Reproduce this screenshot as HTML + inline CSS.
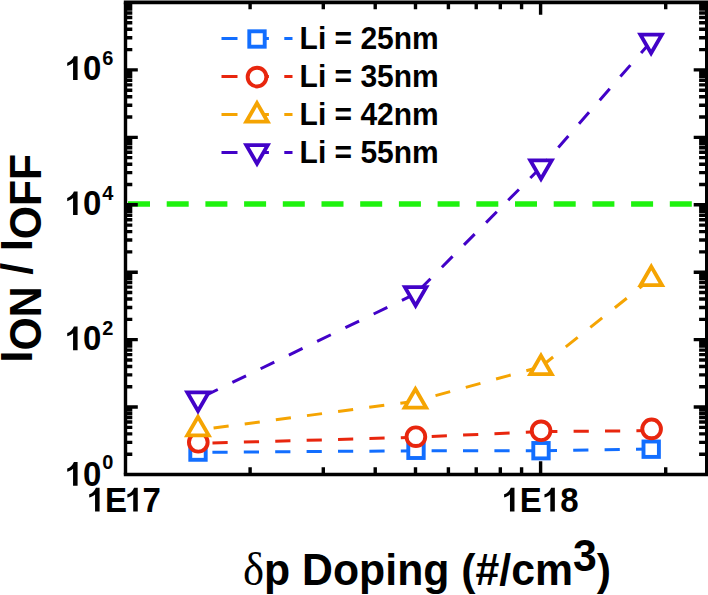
<!DOCTYPE html>
<html><head><meta charset="utf-8"><style>
html,body{margin:0;padding:0;background:#fff;}
svg{display:block;}
text{font-family:"Liberation Sans",sans-serif;font-weight:bold;fill:#000;}
.lg{font-size:30px;}
.tl{font-size:33px;}
.sup{font-size:20px;}
.ti{font-size:43px;}
.dl{font-family:"Liberation Serif",serif;font-weight:normal;font-size:45px;}
</style></head><body>
<svg width="708" height="595" viewBox="0 0 708 595">
<rect width="708" height="595" fill="#fff"/>
<line x1="128" y1="204" x2="692" y2="204" stroke="#1ef20e" stroke-width="5.4" stroke-dasharray="22 16.7"/>
<path d="M416,450.8 L198,452.4" fill="none" stroke="#126eff" stroke-width="3.0" stroke-dasharray="15.2 16.2"/>
<path d="M541,450.8 L416,450.8" fill="none" stroke="#126eff" stroke-width="3.0" stroke-dasharray="15.2 16.2"/>
<path d="M651.2,449.1 L541,450.8" fill="none" stroke="#126eff" stroke-width="3.0" stroke-dasharray="15.2 16.2"/>
<path d="M416,437.2 L198,443.4" fill="none" stroke="#e8260e" stroke-width="3.0" stroke-dasharray="15.2 16.2"/>
<path d="M541,431.6 L416,437.2" fill="none" stroke="#e8260e" stroke-width="3.0" stroke-dasharray="15.2 16.2"/>
<path d="M651.6,430.6 L541,431.6" fill="none" stroke="#e8260e" stroke-width="3.0" stroke-dasharray="15.2 16.2"/>
<path d="M415.4,401.2 L198,430.1" fill="none" stroke="#f5a402" stroke-width="3.0" stroke-dasharray="15.2 16.2"/>
<path d="M541,366.7 L415.4,401.2" fill="none" stroke="#f5a402" stroke-width="3.0" stroke-dasharray="15.2 16.2"/>
<path d="M651.3,278.7 L541,366.7" fill="none" stroke="#f5a402" stroke-width="3.0" stroke-dasharray="15.2 16.2"/>
<path d="M415.6,293.7 L198,399.1" fill="none" stroke="#4202c8" stroke-width="3.0" stroke-dasharray="15.2 16.2"/>
<path d="M541,167.2 L415.6,293.7" fill="none" stroke="#4202c8" stroke-width="3.0" stroke-dasharray="15.2 16.2"/>
<path d="M651.1,41.5 L541,167.2" fill="none" stroke="#4202c8" stroke-width="3.0" stroke-dasharray="15.2 16.2"/>
<rect x="190.30" y="444.40" width="15.4" height="15.4" fill="#fff" stroke="#126eff" stroke-width="3.9"/>
<rect x="408.30" y="442.60" width="15.4" height="15.4" fill="#fff" stroke="#126eff" stroke-width="3.9"/>
<rect x="533.30" y="443.00" width="15.4" height="15.4" fill="#fff" stroke="#126eff" stroke-width="3.9"/>
<rect x="643.50" y="441.50" width="15.4" height="15.4" fill="#fff" stroke="#126eff" stroke-width="3.9"/>
<circle cx="198.30" cy="442.30" r="9.35" fill="#fff" stroke="#e8260e" stroke-width="3.9"/>
<circle cx="415.90" cy="436.70" r="9.35" fill="#fff" stroke="#e8260e" stroke-width="3.9"/>
<circle cx="541.10" cy="430.80" r="9.35" fill="#fff" stroke="#e8260e" stroke-width="3.9"/>
<circle cx="651.60" cy="428.90" r="9.35" fill="#fff" stroke="#e8260e" stroke-width="3.9"/>
<polygon points="198.00,416.84 208.70,435.38 187.30,435.38" fill="#fff" stroke="#f5a402" stroke-width="3.85"/>
<polygon points="415.40,389.04 426.10,407.58 404.70,407.58" fill="#fff" stroke="#f5a402" stroke-width="3.85"/>
<polygon points="541.00,355.64 551.70,374.18 530.30,374.18" fill="#fff" stroke="#f5a402" stroke-width="3.85"/>
<polygon points="651.30,266.64 662.00,285.18 640.60,285.18" fill="#fff" stroke="#f5a402" stroke-width="3.85"/>
<polygon points="187.30,392.42 208.70,392.42 198.00,410.96" fill="#fff" stroke="#4202c8" stroke-width="3.85"/>
<polygon points="404.90,287.12 426.30,287.12 415.60,305.66" fill="#fff" stroke="#4202c8" stroke-width="3.85"/>
<polygon points="530.30,160.42 551.70,160.42 541.00,178.96" fill="#fff" stroke="#4202c8" stroke-width="3.85"/>
<polygon points="640.40,34.62 661.80,34.62 651.10,53.16" fill="#fff" stroke="#4202c8" stroke-width="3.85"/>
<path d="M250.11,474.5 v-7.3 M250.11,2.4 v6.8 M323.29,474.5 v-7.3 M323.29,2.4 v6.8 M375.22,474.5 v-7.3 M375.22,2.4 v6.8 M415.49,474.5 v-7.3 M415.49,2.4 v6.8 M448.40,474.5 v-7.3 M448.40,2.4 v6.8 M476.22,474.5 v-7.3 M476.22,2.4 v6.8 M500.32,474.5 v-7.3 M500.32,2.4 v6.8 M521.58,474.5 v-7.3 M521.58,2.4 v6.8 M540.60,474.5 v-13.2 M540.60,2.4 v12.4 M665.71,474.5 v-7.3 M665.71,2.4 v6.8 M125.5,454.20 h6.8 M706.7,454.20 h-7.6 M125.5,442.33 h6.8 M706.7,442.33 h-7.6 M125.5,433.90 h6.8 M706.7,433.90 h-7.6 M125.5,427.37 h6.8 M706.7,427.37 h-7.6 M125.5,422.03 h6.8 M706.7,422.03 h-7.6 M125.5,417.52 h6.8 M706.7,417.52 h-7.6 M125.5,413.60 h6.8 M706.7,413.60 h-7.6 M125.5,410.16 h6.8 M706.7,410.16 h-7.6 M125.5,407.07 h12.3 M706.7,407.07 h-13.0 M125.5,386.77 h6.8 M706.7,386.77 h-7.6 M125.5,374.90 h6.8 M706.7,374.90 h-7.6 M125.5,366.47 h6.8 M706.7,366.47 h-7.6 M125.5,359.94 h6.8 M706.7,359.94 h-7.6 M125.5,354.60 h6.8 M706.7,354.60 h-7.6 M125.5,350.09 h6.8 M706.7,350.09 h-7.6 M125.5,346.17 h6.8 M706.7,346.17 h-7.6 M125.5,342.73 h6.8 M706.7,342.73 h-7.6 M125.5,339.64 h12.3 M706.7,339.64 h-13.0 M125.5,319.34 h6.8 M706.7,319.34 h-7.6 M125.5,307.47 h6.8 M706.7,307.47 h-7.6 M125.5,299.04 h6.8 M706.7,299.04 h-7.6 M125.5,292.51 h6.8 M706.7,292.51 h-7.6 M125.5,287.17 h6.8 M706.7,287.17 h-7.6 M125.5,282.66 h6.8 M706.7,282.66 h-7.6 M125.5,278.74 h6.8 M706.7,278.74 h-7.6 M125.5,275.30 h6.8 M706.7,275.30 h-7.6 M125.5,272.21 h12.3 M706.7,272.21 h-13.0 M125.5,251.91 h6.8 M706.7,251.91 h-7.6 M125.5,240.04 h6.8 M706.7,240.04 h-7.6 M125.5,231.61 h6.8 M706.7,231.61 h-7.6 M125.5,225.08 h6.8 M706.7,225.08 h-7.6 M125.5,219.74 h6.8 M706.7,219.74 h-7.6 M125.5,215.23 h6.8 M706.7,215.23 h-7.6 M125.5,211.31 h6.8 M706.7,211.31 h-7.6 M125.5,207.87 h6.8 M706.7,207.87 h-7.6 M125.5,204.78 h12.3 M706.7,204.78 h-13.0 M125.5,184.48 h6.8 M706.7,184.48 h-7.6 M125.5,172.61 h6.8 M706.7,172.61 h-7.6 M125.5,164.18 h6.8 M706.7,164.18 h-7.6 M125.5,157.65 h6.8 M706.7,157.65 h-7.6 M125.5,152.31 h6.8 M706.7,152.31 h-7.6 M125.5,147.80 h6.8 M706.7,147.80 h-7.6 M125.5,143.88 h6.8 M706.7,143.88 h-7.6 M125.5,140.44 h6.8 M706.7,140.44 h-7.6 M125.5,137.35 h12.3 M706.7,137.35 h-13.0 M125.5,117.05 h6.8 M706.7,117.05 h-7.6 M125.5,105.18 h6.8 M706.7,105.18 h-7.6 M125.5,96.75 h6.8 M706.7,96.75 h-7.6 M125.5,90.22 h6.8 M706.7,90.22 h-7.6 M125.5,84.88 h6.8 M706.7,84.88 h-7.6 M125.5,80.37 h6.8 M706.7,80.37 h-7.6 M125.5,76.45 h6.8 M706.7,76.45 h-7.6 M125.5,73.01 h6.8 M706.7,73.01 h-7.6 M125.5,69.92 h12.3 M706.7,69.92 h-13.0 M125.5,49.62 h6.8 M706.7,49.62 h-7.6 M125.5,37.75 h6.8 M706.7,37.75 h-7.6 M125.5,29.32 h6.8 M706.7,29.32 h-7.6 M125.5,22.79 h6.8 M706.7,22.79 h-7.6 M125.5,17.45 h6.8 M706.7,17.45 h-7.6 M125.5,12.94 h6.8 M706.7,12.94 h-7.6 M125.5,9.02 h6.8 M706.7,9.02 h-7.6 M125.5,5.58 h6.8 M706.7,5.58 h-7.6" stroke="#000" stroke-width="3.4" fill="none"/>
<path d="M125.5,2.4 V474.5" stroke="#000" stroke-width="3.4"/>
<path d="M706.7,2.4 V474.5" stroke="#000" stroke-width="3.4"/>
<path d="M123.8,2.4 H708.4000000000001" stroke="#000" stroke-width="3.6"/>
<path d="M123.8,474.5 H708.4000000000001" stroke="#000" stroke-width="3.3"/>
<path d="M221.5,38.5 H292.5" stroke="#126eff" stroke-width="3.0" stroke-dasharray="16 15.4"/>
<rect x="249.30" y="31.30" width="15.4" height="15.4" fill="#fff" stroke="#126eff" stroke-width="3.9"/>
<text transform="translate(299.6,49.2) scale(1,1.07)" class="lg">Li = 25nm</text>
<path d="M221.5,76.6 H292.5" stroke="#e8260e" stroke-width="3.0" stroke-dasharray="16 15.4"/>
<circle cx="257.00" cy="77.10" r="9.35" fill="#fff" stroke="#e8260e" stroke-width="3.9"/>
<text transform="translate(299.6,87.0) scale(1,1.07)" class="lg">Li = 35nm</text>
<path d="M221.5,114.6 H292.5" stroke="#f5a402" stroke-width="3.0" stroke-dasharray="16 15.4"/>
<polygon points="257.00,103.14 267.70,121.68 246.30,121.68" fill="#fff" stroke="#f5a402" stroke-width="3.85"/>
<text transform="translate(299.6,125.2) scale(1,1.07)" class="lg">Li = 42nm</text>
<path d="M221.5,152.6 H292.5" stroke="#4202c8" stroke-width="3.0" stroke-dasharray="16 15.4"/>
<polygon points="246.30,145.12 267.70,145.12 257.00,163.66" fill="#fff" stroke="#4202c8" stroke-width="3.85"/>
<text transform="translate(299.6,162.5) scale(1,1.07)" class="lg">Li = 55nm</text>
<path transform="translate(64.60,79.90) scale(0.01611,-0.01611)" d="M806,0 L525,0 L525,1059 C430,975 310,905 162,865 L162,1065 C250,1095 330,1145 405,1215 C480,1285 540,1372 578,1472 L806,1472 Z"/>
<text transform="translate(82.95,79.9) scale(1,1.05)" class="tl">0</text>
<text x="102.31" y="65.0" class="sup">6</text>
<path transform="translate(64.60,215.10) scale(0.01611,-0.01611)" d="M806,0 L525,0 L525,1059 C430,975 310,905 162,865 L162,1065 C250,1095 330,1145 405,1215 C480,1285 540,1372 578,1472 L806,1472 Z"/>
<text transform="translate(82.95,215.1) scale(1,1.05)" class="tl">0</text>
<text x="102.31" y="200.3" class="sup">4</text>
<path transform="translate(64.60,350.20) scale(0.01611,-0.01611)" d="M806,0 L525,0 L525,1059 C430,975 310,905 162,865 L162,1065 C250,1095 330,1145 405,1215 C480,1285 540,1372 578,1472 L806,1472 Z"/>
<text transform="translate(82.95,350.2) scale(1,1.05)" class="tl">0</text>
<text x="102.31" y="335.1" class="sup">2</text>
<path transform="translate(64.60,485.70) scale(0.01611,-0.01611)" d="M806,0 L525,0 L525,1059 C430,975 310,905 162,865 L162,1065 C250,1095 330,1145 405,1215 C480,1285 540,1372 578,1472 L806,1472 Z"/>
<text transform="translate(82.95,485.7) scale(1,1.05)" class="tl">0</text>
<text x="102.31" y="468.8" class="sup">0</text>
<path transform="translate(86.60,511.50) scale(0.01611,-0.01611)" d="M806,0 L525,0 L525,1059 C430,975 310,905 162,865 L162,1065 C250,1095 330,1145 405,1215 C480,1285 540,1372 578,1472 L806,1472 Z"/>
<text transform="translate(104.95,511.5) scale(1,1.04)" class="tl">E</text>
<path transform="translate(124.76,511.50) scale(0.01611,-0.01611)" d="M806,0 L525,0 L525,1059 C430,975 310,905 162,865 L162,1065 C250,1095 330,1145 405,1215 C480,1285 540,1372 578,1472 L806,1472 Z"/>
<text transform="translate(142.62,511.5) scale(1,1.04)" class="tl">7</text>
<path transform="translate(501.50,511.50) scale(0.01611,-0.01611)" d="M806,0 L525,0 L525,1059 C430,975 310,905 162,865 L162,1065 C250,1095 330,1145 405,1215 C480,1285 540,1372 578,1472 L806,1472 Z"/>
<text transform="translate(519.85,511.5) scale(1,1.04)" class="tl">E</text>
<path transform="translate(541.86,511.50) scale(0.01611,-0.01611)" d="M806,0 L525,0 L525,1059 C430,975 310,905 162,865 L162,1065 C250,1095 330,1145 405,1215 C480,1285 540,1372 578,1472 L806,1472 Z"/>
<text transform="translate(560.22,511.5) scale(1,1.04)" class="tl">8</text>
<text transform="translate(243,585) scale(0.995,1.05)" class="ti"><tspan class="dl">&#948;</tspan>p Doping (#/cm<tspan dy="-13">3</tspan><tspan dy="13">)</tspan></text>
<text transform="translate(31.5,362.4) rotate(-90) scale(0.992,1.02)" class="ti">I<tspan dy="9.3">ON</tspan><tspan dy="-9.3"> / I</tspan><tspan dy="9.3">OFF</tspan></text>
</svg>
</body></html>
